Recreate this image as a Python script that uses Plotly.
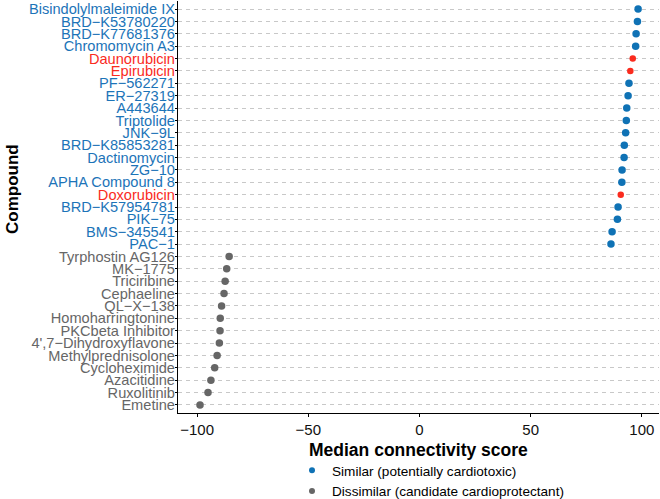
import plotly.graph_objects as go

# ---- data (top to bottom as shown) ----
compounds = [
    "Bisindolylmaleimide IX", "BRD−K53780220", "BRD−K77681376", "Chromomycin A3",
    "Daunorubicin", "Epirubicin", "PF−562271", "ER−27319", "A443644", "Triptolide",
    "JNK−9L", "BRD−K85853281", "Dactinomycin", "ZG−10", "APHA Compound 8",
    "Doxorubicin", "BRD−K57954781", "PIK−75", "BMS−345541", "PAC−1",
    "Tyrphostin AG126", "MK−1775", "Triciribine", "Cephaeline", "QL−X−138",
    "Homoharringtonine", "PKCbeta Inhibitor", "4',7−Dihydroxyflavone",
    "Methylprednisolone", "Cycloheximide", "Azacitidine", "Ruxolitinib", "Emetine",
]
scores = [
    98.3, 98.0, 97.4, 97.2, 95.9, 94.8, 94.2, 93.8, 93.2, 93.0,
    92.7, 92.1, 92.0, 91.1, 91.0, 90.5, 89.3, 89.0, 86.6, 86.1,
    -85.6, -86.7, -87.4, -87.9, -89.0, -89.6, -89.7, -90.0,
    -91.0, -92.1, -93.8, -95.1, -98.7,
]
# group: similar / anthracycline / dissimilar
groups = (
    ["similar"] * 4 + ["anthracycline"] * 2 + ["similar"] * 9 + ["anthracycline"]
    + ["similar"] * 4 + ["dissimilar"] * 13
)
legend_labels = ["Similar (potentially cardiotoxic)", "Dissimilar (candidate cardioprotectant)"]

colors = {"similar": "#0F72B5", "anthracycline": "#FA2B1E", "dissimilar": "#666666"}
label_colors = {"similar": "#1C74B8", "anthracycline": "#FA2B1E", "dissimilar": "#666666"}
sizes = {"similar": 7.5, "anthracycline": 6.5, "dissimilar": 7.5}

n = len(compounds)
ypos = [n - 1 - i for i in range(n)]

fig = go.Figure()
for g in ["dissimilar", "similar", "anthracycline"]:
    idx = [i for i in range(n) if groups[i] == g]
    fig.add_trace(go.Scatter(
        x=[scores[i] for i in idx],
        y=[ypos[i] for i in idx],
        mode="markers",
        marker=dict(color=colors[g], size=sizes[g]),
        text=[compounds[i] for i in idx],
        hovertemplate="%{text}: %{x}<extra></extra>",
        showlegend=False,
    ))

# legend entries
for lab, g in zip(legend_labels, ["similar", "dissimilar"]):
    fig.add_trace(go.Scatter(
        x=[None], y=[None], mode="markers",
        marker=dict(color=colors[g], size=6),
        name=lab, showlegend=True,
    ))

ticktext = [f'<span style="color:{label_colors[g]}">{c}</span>' for c, g in zip(compounds, groups)]

fig.update_layout(
    width=660, height=499,
    margin=dict(l=178, r=1, t=1, b=86, autoexpand=False),
    paper_bgcolor="white", plot_bgcolor="white",
    font=dict(family="Liberation Sans, Arial, sans-serif", size=14, color="#1a1a1a"),
    xaxis=dict(
        range=[-108.6, 107.7], tickvals=[-100, -50, 0, 50, 100],
        showgrid=False, zeroline=False,
        showline=True, linecolor="black", linewidth=1.3,
        ticks="outside", ticklen=3, tickcolor="black", tickwidth=1,
        tickfont=dict(size=15, color="#111111"),
    ),
    yaxis=dict(
        range=[-0.65, n - 1 + 0.65],
        tickvals=ypos, ticktext=ticktext,
        showgrid=True, gridcolor="#c8c8c8", gridwidth=1, griddash="4px,4px",
        zeroline=False,
        showline=True, linecolor="black", linewidth=1.3,
        ticks="outside", ticklen=2, tickcolor="black",
        ticklabelstandoff=-3,
        tickfont=dict(size=14.6),
    ),
    legend=dict(
        x=(292 - 178) / 481, y=-(455 - 413) / 412, xanchor="left", yanchor="top",
        font=dict(size=13.6, color="black"), bgcolor="rgba(0,0,0,0)",
        itemwidth=30, tracegroupgap=0,
    ),
    annotations=[
        dict(text="<b>Median connectivity score</b>", xref="paper", yref="paper",
             x=(418 - 178) / 481, y=-(450 - 413) / 412, xanchor="center", yanchor="middle",
             showarrow=False, font=dict(size=17.5, color="black")),
        dict(text="<b>Compound</b>", xref="paper", yref="paper",
             x=(12 - 178) / 481, y=(413 - 189) / 412, xanchor="center", yanchor="middle",
             textangle=-90, showarrow=False, font=dict(size=17, color="black")),
    ],
)

fig.write_html(
    "out.html",
    config={"displayModeBar": False},
    post_script="document.body.style.margin='0';document.body.style.overflow='hidden';",
)
